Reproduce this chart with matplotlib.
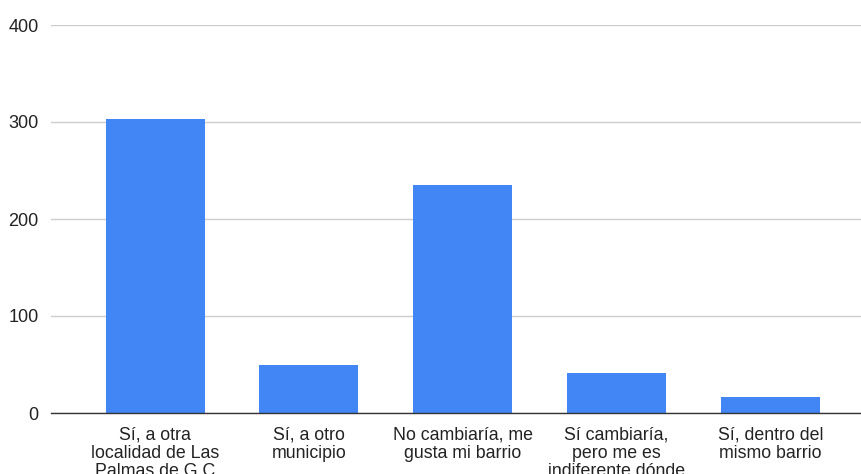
import numpy as np
import matplotlib.pyplot as plt

# Respuestas de la encuesta
categorias = [
    "Sí, a otra\nlocalidad de Las\nPalmas de G.C",
    "Sí, a otro\nmunicipio",
    "No cambiaría, me\ngusta mi barrio",
    "Sí cambiaría,\npero me es\nindiferente dónde",
    "Sí, dentro del\nmismo barrio",
]
valores = [303, 49, 235, 41, 16]
yticks = [0, 100, 200, 300, 400]

plt.rcParams['font.family'] = ['Liberation Sans', 'DejaVu Sans']

fig = plt.figure(figsize=(8.61, 4.74), dpi=100)
ax = fig.add_axes([51 / 861, 61 / 474, 810 / 861, 388 / 474])

x = np.arange(len(categorias))
ax.bar(x, valores, width=0.645, color='#4285F4', zorder=3)

ax.set_ylim(0, 400)
ax.set_xlim(-0.677, 4.59)
ax.set_yticks(yticks)
ax.set_xticks(x)
ax.set_xticklabels(categorias, fontsize=12.8, color='#222222', linespacing=1.1)
ax.tick_params(axis='y', labelsize=13, labelcolor='#222222', length=0, pad=9)
ax.tick_params(axis='x', length=0, pad=10)

ax.grid(axis='y', color='#cccccc', linewidth=1, zorder=0)
for s in ['top', 'right', 'left']:
    ax.spines[s].set_visible(False)
ax.spines['bottom'].set_color('#333333')
ax.spines['bottom'].set_linewidth(1)
ax.spines['bottom'].set_zorder(4)

fig.savefig('out.png', dpi=100)
